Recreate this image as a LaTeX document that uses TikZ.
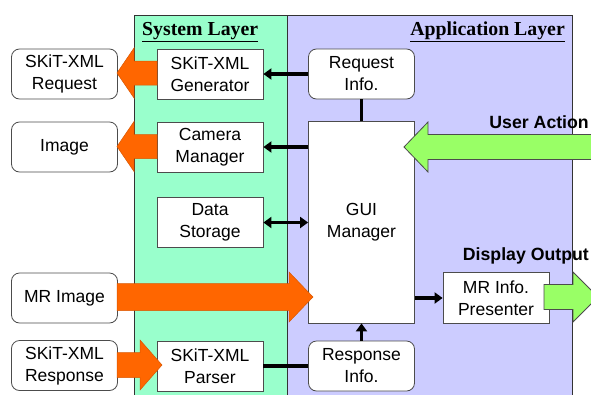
\documentclass[tikz,border=0pt]{standalone}
\usepackage{fontspec}
\setmainfont{Liberation Serif}
\setsansfont{Liberation Sans}
\usetikzlibrary{arrows.meta,calc}
\definecolor{sysgreen}{HTML}{99FFCC}
\definecolor{applav}{HTML}{CCCCFF}
\definecolor{orangeA}{HTML}{FF6600}
\definecolor{greenA}{HTML}{99FF66}
\newcommand{\blockarr}[7]{%
  \filldraw[#1] (#2,{#4-#5}) -- (#7,{#4-#5}) -- (#7,{#4-#6}) -- (#3,#4) -- (#7,{#4+#6}) -- (#7,{#4+#5}) -- (#2,{#4+#5}) -- cycle;}
\begin{document}
\begin{tikzpicture}[x=1pt,y=-1pt,
  box/.style={draw=black!70,line width=0.8pt,fill=white,minimum width=106pt,minimum height=50pt,inner sep=0pt,align=center,font=\sffamily\fontsize{17.5}{22}\selectfont},
  rbox/.style={box,rounded corners=8pt},
  conn/.style={line width=3.4pt,black},
  tip/.style={-{Triangle[length=8pt,width=11pt]}},
  both/.style={{Triangle[length=8pt,width=11pt]}-{Triangle[length=8pt,width=11pt]}},
  orangearr/.style={fill=orangeA,draw=orangeA!85!black,line width=0.5pt},
  greenarr/.style={fill=greenA,draw=black!70,line width=0.8pt},
  ttl/.style={font=\bfseries\fontsize{19.8}{22}\selectfont,inner sep=0pt},
  lbl/.style={font=\sffamily\bfseries\fontsize{17.7}{20}\selectfont,inner sep=0pt}]
\useasboundingbox (0,0) rectangle (591,394);
\begin{scope}
\clip (0,0) rectangle (591,394);
% layers
\draw[fill=sysgreen,draw=black!80,line width=0.7pt] (134,15) rectangle (287,400);
\draw[fill=applav,draw=black!80,line width=0.7pt] (287,15) rectangle (572,400);
\node[ttl,anchor=west] (systitle) at (142,32) {\underline{System Layer}};
\node[ttl,anchor=east] (apptitle) at (565,32) {\underline{Application Layer}};
% left boxes
\node[rbox] (req) at (64.5,74) {SKiT-XML\\Request};
\node[rbox] (img) at (64.5,147) {Image};
\node[rbox] (mri) at (64.5,298) {MR Image};
\node[rbox] (resp) at (64.5,365.5) {SKiT-XML\\Response};
% system boxes
\node[box] (gen) at (210,74) {SKiT-XML\\Generator};
\node[box] (cam) at (210,147) {Camera\\Manager};
\node[box] (store) at (210,222.5) {Data\\Storage};
\node[box] (parser) at (210,366) {SKiT-XML\\Parser};
% application boxes
\node[rbox] (reqinfo) at (361.5,74) {Request\\Info.};
\node[box,minimum height=202pt] (gui) at (361.5,222) {GUI\\Manager};
\node[rbox] (respinfo) at (361.5,366) {Response\\Info.};
\node[box,minimum height=51pt] (pres) at (496,298) {MR Info.\\Presenter};
% connectors
\draw[conn,tip] (reqinfo.west) -- (gen.east);
\draw[conn] (reqinfo.south) -- (gui.north);
\draw[conn,tip] (cam.east -| gui.west) -- (cam.east);
\draw[conn,both] (store.east -| gui.west) -- (store.east);
\draw[conn,tip] (pres.west -| gui.east) -- (pres.west);
\draw[conn] (parser.east) -- (respinfo.west);
\draw[conn,tip] (respinfo.north) -- (gui.south);
% block arrows
\blockarr{orangearr}{157}{117}{73}{12}{25}{134}
\blockarr{orangearr}{157}{117}{146.5}{12}{25}{134}
\blockarr{orangearr}{117}{313}{297}{13.5}{25}{289}
\blockarr{orangearr}{117}{162}{365}{12.5}{25}{140}
\blockarr{greenarr}{600}{404}{147}{12.5}{25}{428}
\blockarr{greenarr}{544}{598}{297}{12.5}{25}{573}
\node[lbl,anchor=east] (ua) at (589,122) {User Action};
\node[lbl,anchor=east] (dout) at (589,256) {Display Output};
\end{scope}
\end{tikzpicture}
\end{document}
